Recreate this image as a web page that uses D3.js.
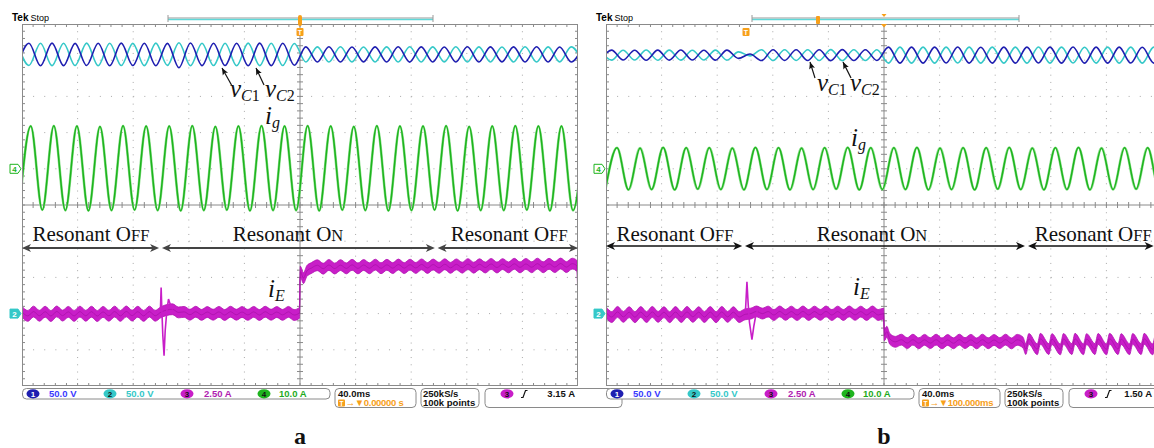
<!DOCTYPE html>
<html>
<head>
<meta charset="utf-8">
<script src="https://cdn.jsdelivr.net/npm/d3@7"></script>
<style>
body { margin: 0; background: #fff; }
svg { display: block; }
</style>
</head>
<body>
<svg id="chart" width="1154" height="448"></svg>
<script>
// scope settings (channels 1-4)
const chScale = [50, 50, 2.5, 10];      // V/div, V/div, A/div, A/div
const chPos = [-3, -3, -3, 1];          // ground marker, divisions from centre
const chReadout = ["50.0 V", "50.0 V", "2.50 A", "10.0 A"];
const timeDomainMs = [0, 400];          // 40 ms/div, 10 div
const halfCycleMs = 8.3;                // spacing of peaks and troughs (60 Hz)

// ---- panel a ----
const vc1A_t0 = -3.3;
const vc1A = [342.6,373.4,342.4,373.6,342.5,373.3,342.7,373.5,342.4,373.6,342.6,373.4,342.3,373.2,339.5,373.8,342.5,373.4,342.6,373.5,342.4,373.6,342.5,373.4,343.0,
  368.4,347.6,368.5,347.5,368.3,347.7,368.4,347.6,368.5,347.4,368.4,347.6,368.3,347.5,368.5,347.6,368.4,347.7,368.4,347.5,368.5,347.6,368.3,347.6,368.4];
const vc2A_t0 = -3.3;
const vc2A = [373.3,342.7,373.5,342.5,373.4,342.6,373.6,342.4,373.5,342.6,373.3,342.5,373.6,342.8,374.0,342.3,373.4,342.6,373.5,342.4,373.6,342.5,373.4,342.6,373.0,
  347.6,368.4,347.5,368.5,347.7,368.3,347.6,368.4,347.5,368.6,347.6,368.4,347.7,368.5,347.5,368.4,347.6,368.3,347.6,368.5,347.5,368.4,347.7,368.4,347.6];
const igA_t0 = -2.0;
const igA = [-11.5,11.8,-11.4,11.9,-11.5,11.8,-11.6,11.7,-11.5,11.9,-11.4,11.8,-11.5,11.8,-11.6,11.9,-11.5,11.7,-11.4,11.8,-11.6,11.9,-11.5,11.8,-11.5,
  11.9,-11.6,11.8,-11.4,11.7,-11.5,11.9,-11.6,11.8,-11.5,11.8,-11.4,11.9,-11.6,11.7,-11.5,11.8,-11.5,11.9,-11.4,11.8,-11.6,11.8,-11.5,11.7];
const ieA = [[0,0.12],[4.2,-0.16],[8.3,0.14],[12.5,-0.15],[16.7,0.13],[20.8,-0.17],[25,0.15],[29.2,-0.14],[33.3,0.12],[37.5,-0.16],[41.7,0.14],[45.8,-0.15],
  [50,0.13],[54.2,-0.17],[58.3,0.12],[62.5,-0.15],[66.7,0.14],[70.8,-0.16],[75,0.15],[79.2,-0.14],[83.3,0.13],[87.5,-0.16],[91.7,0.14],[95.8,-0.15],
  [100,0.1],[104.2,0.25],[108.3,0.3],[112.5,0.08],
  [116.7,0.12],[120.8,-0.08],[125,0.13],[129.2,-0.09],[133.3,0.11],[137.5,-0.08],[141.7,0.12],[145.8,-0.1],[150,0.13],[154.2,-0.08],[158.3,0.11],[162.5,-0.09],
  [166.7,0.12],[170.8,-0.1],[175,0.13],[179.2,-0.08],[183.3,0.11],[187.5,-0.09],[191.7,0.12],[195.8,-0.1],
  [199.6,0.05],[200.2,2.9],[202.5,2.45],[205,2.95],[208.3,3.15],
  [212.5,3.34],[216.7,3.1],[220.8,3.36],[225,3.11],[229.2,3.35],[233.3,3.12],[237.5,3.37],[241.7,3.12],[245.8,3.36],[250,3.13],[254.2,3.38],[258.3,3.13],
  [262.5,3.37],[266.7,3.14],[270.8,3.39],[275,3.14],[279.2,3.38],[283.3,3.15],[287.5,3.4],[291.7,3.15],[295.8,3.39],[300,3.16],[304.2,3.41],[308.3,3.16],
  [312.5,3.4],[316.7,3.17],[320.8,3.42],[325,3.17],[329.2,3.41],[333.3,3.18],[337.5,3.43],[341.7,3.18],[345.8,3.42],[350,3.19],[354.2,3.44],[358.3,3.19],
  [362.5,3.43],[366.7,3.2],[370.8,3.45],[375,3.2],[379.2,3.44],[383.3,3.21],[387.5,3.46],[391.7,3.21],[395.8,3.45],[399.2,3.3],[400,0.6]];
const spikeA = [[99.6,0.3],[100.1,1.8],[100.6,0.3],[101.3,-1.5],[102.2,-2.9],[103,-1.2],[104.2,0.2],[105.4,1.0],[106.8,0.6],[108.5,0.3]];
const phaseA = [[0, 98.6], [100.7, 297], [299, 400]];

// ---- panel b ----
const vc1B_t0 = -4.3;
const vc1B = [350.1,363.9,350.2,363.8,350.0,363.9,350.1,364.0,350.2,363.8,350.1,363.9,352.5,358.5,349.5,364.5,349.6,364.4,349.5,364.5,349.4,364.6,349.5,364.4,349.6,
  368.0,346.0,368.1,345.9,368.0,346.1,368.2,346.0,367.9,346.0,368.1,345.9,368.0,346.1,368.0,346.0,368.2,345.9,368.0,346.0,368.1,346.1,367.9,346.0,368.0];
const vc2B_t0 = -4.3;
const vc2B = [363.9,350.1,363.8,350.2,364.0,350.0,363.9,350.1,363.8,350.2,363.9,350.1,361.5,356.0,364.5,349.5,364.4,349.6,364.5,349.5,364.6,349.4,364.4,349.5,364.4,
  346.0,368.0,345.9,368.1,346.0,368.0,346.1,368.0,345.9,368.1,346.0,368.0,345.9,368.2,346.0,368.0,346.1,367.9,346.0,368.0,346.0,368.1,345.9,368.0,346.0];
const igB_t0 = -0.4;
const igB = [-5.7,5.8,-5.8,5.7,-5.7,5.9,-5.8,5.8,-5.6,5.8,-5.7,5.7,-5.8,5.9,-5.7,5.8,-5.8,5.7,-5.7,5.8,-5.6,5.9,-5.8,5.8,-5.7,
  5.8,-5.7,5.9,-5.8,5.7,-5.7,5.8,-5.8,5.8,-5.6,5.9,-5.7,5.7,-5.8,5.8,-5.7,5.9,-5.8,5.7,-5.7,5.8,-5.6,5.8,-5.8,5.7];
const ieB = [[0,0.1],[4.2,-0.24],[8.3,0.12],[12.5,-0.23],[16.7,0.1],[20.8,-0.25],[25,0.11],[29.2,-0.24],[33.3,0.12],[37.5,-0.23],[41.7,0.1],[45.8,-0.25],
  [50,0.11],[54.2,-0.24],[58.3,0.12],[62.5,-0.23],[66.7,0.1],[70.8,-0.24],[75,0.11],[79.2,-0.25],[83.3,0.12],[87.5,-0.23],[91.7,0.1],[95.8,-0.24],
  [100,-0.05],[104.2,0.0],[108.3,0.15],[112.5,0.0],
  [116.7,0.14],[120.8,-0.1],[125,0.15],[129.2,-0.09],[133.3,0.14],[137.5,-0.1],[141.7,0.15],[145.8,-0.1],[150,0.14],[154.2,-0.09],[158.3,0.15],[162.5,-0.1],
  [166.7,0.14],[170.8,-0.1],[175,0.15],[179.2,-0.09],[183.3,0.14],[187.5,-0.1],[191.7,0.15],[195.8,-0.1],
  [199.7,0.0],[200.3,-1.5],[202,-1.25],[204.2,-1.75],[208.3,-1.95],
  [212.5,-1.8],[216.7,-2.04],[220.8,-1.8],[225,-2.05],[229.2,-1.81],[233.3,-2.04],[237.5,-1.8],[241.7,-2.06],[245.8,-1.82],[250,-2.05],[254.2,-1.8],
  [258.3,-2.04],[262.5,-1.81],[266.7,-2.06],[270.8,-1.8],[275,-2.05],[279.2,-1.82],[283.3,-2.04],[287.5,-1.8],[291.7,-2.06],[295.8,-1.81],[300,-2.0],
  [302,-2.45],[304.2,-1.75],[310.3,-2.46],[312.5,-1.74],[318.6,-2.45],[320.8,-1.76],[326.9,-2.47],[329.1,-1.75],[335.2,-2.45],[337.4,-1.74],[343.5,-2.46],
  [345.7,-1.76],[351.8,-2.45],[354,-1.75],[360.1,-2.47],[362.3,-1.74],[368.4,-2.45],[370.6,-1.76],[376.7,-2.46],[378.9,-1.75],[385,-2.45],[387.2,-1.74],
  [393.3,-2.47],[395.5,-1.75],[401.6,-2.45]];
const spikeB = [[100.3,0.1],[101.4,2.2],[102.2,0.8],[103.2,-0.6],[105,-1.8],[106.3,-0.9],[107.8,-0.1],[109.4,0.35],[111,0.1]];
const phaseB = [[0, 98], [100, 301.4], [303.6, 394]];

const phaseNames = [["Resonant O", "FF"], ["Resonant O", "N"], ["Resonant O", "FF"]];
const phaseCentersMs = [49.6, 191.4, 350.5];
const ieBandA = 0.75;    // width of the noisy iE band

const panels = [
	{ x0: 22, label: "a", vc1: vc1A, vc1T0: vc1A_t0, vc2: vc2A, vc2T0: vc2A_t0, ig: igA, igT0: igA_t0, ie: ieA, spike: spikeA,
	  phase: phaseA, horiz: "0.00000 s", trig: "3.15 A", trigRight: 553, arrowStroke: "#444", arrowW: 1.8, arrowY: 248,
	  recBar: [168, 433], trigMark: 300, tBox: 300, labels: { vc1: [230, 97], vc2: [265, 97], ig: [265, 124], ie: [268, 297] },
	  ptr: [[[231.5, 85], [222, 68]], [[264, 85], [256, 68]]] },
	{ x0: 606, label: "b", vc1: vc1B, vc1T0: vc1B_t0, vc2: vc2B, vc2T0: vc2B_t0, ig: igB, igT0: igB_t0, ie: ieB, spike: spikeB,
	  phase: phaseB, horiz: "100.000ms", trig: "1.50 A", trigRight: 546, arrowStroke: "#111", arrowW: 1.4, arrowY: 246,
	  recBar: [752, 1019], trigMark: 818, tBox: 746, labels: { vc1: [817, 91], vc2: [850, 91], ig: [851, 146], ie: [853, 295] },
	  ptr: [[[815, 78], [810, 62]], [[851, 78], [843, 62]]] }
];

const gridW = 556, gridTop = 24, gridBot = 386;
const colors = { ch1: "#1e1eb0", ch2: "#35c8c8", ch3: "#c81ec8", ch4: "#1eb41e", grid: "#8a8a8a", dot: "#a8a8a8", orange: "#f7a01a" };
const chColors = [colors.ch1, colors.ch2, colors.ch3, colors.ch4];

const svg = d3.select("#chart");
const serif = "'Liberation Serif', 'Times New Roman', serif";
const sans = "'Liberation Sans', Arial, sans-serif";

function extremes(t0, vals) {
	return vals.map((v, i) => [t0 + i * halfCycleMs, v]);
}

function arrowHead(g, tx, ty, dir, fill) {
	// dir = 1 points right, -1 points left
	g.append("path")
		.attr("d", `M${tx},${ty} L${tx - dir * 9},${ty - 4} L${tx - dir * 6.5},${ty} L${tx - dir * 9},${ty + 4} Z`)
		.attr("fill", fill);
}

panels.forEach((p, pi) => {
	const g = svg.append("g");
	const x = d3.scaleLinear().domain(timeDomainMs).range([p.x0, p.x0 + gridW]);
	const yDiv = d3.scaleLinear().domain([-5, 5]).range([gridBot, gridTop]);
	const yCh = (ch, v) => yDiv(v / chScale[ch] + chPos[ch]);

	// ---- graticule ----
	const grid = g.append("g");
	d3.range(1, 10).filter(i => i !== 5).forEach(i => {
		grid.append("line").attr("x1", x(i * 40)).attr("x2", x(i * 40)).attr("y1", gridTop).attr("y2", gridBot)
			.attr("stroke", colors.dot).attr("stroke-dasharray", "1,6.24");
		grid.append("line").attr("x1", p.x0).attr("x2", p.x0 + gridW).attr("y1", yDiv(i - 5)).attr("y2", yDiv(i - 5))
			.attr("stroke", colors.dot).attr("stroke-dasharray", "1,10.12");
	});
	grid.append("line").attr("x1", x(200)).attr("x2", x(200)).attr("y1", gridTop).attr("y2", gridBot).attr("stroke", colors.grid);
	grid.append("line").attr("x1", p.x0).attr("x2", p.x0 + gridW).attr("y1", yDiv(0)).attr("y2", yDiv(0)).attr("stroke", colors.grid);
	d3.range(1, 50).forEach(k => {
		const xx = x(k * 8), yy = yDiv(k / 5 - 5);
		grid.append("line").attr("x1", xx).attr("x2", xx).attr("y1", yDiv(0) - 3).attr("y2", yDiv(0) + 3).attr("stroke", colors.grid);
		grid.append("line").attr("x1", x(200) - 3).attr("x2", x(200) + 3).attr("y1", yy).attr("y2", yy).attr("stroke", colors.grid);
		grid.append("line").attr("x1", xx).attr("x2", xx).attr("y1", gridTop).attr("y2", gridTop + 3).attr("stroke", colors.grid);
		grid.append("line").attr("x1", xx).attr("x2", xx).attr("y1", gridBot - 3).attr("y2", gridBot).attr("stroke", colors.grid);
		grid.append("line").attr("x1", p.x0).attr("x2", p.x0 + 3).attr("y1", yy).attr("y2", yy).attr("stroke", colors.grid);
		grid.append("line").attr("x1", p.x0 + gridW - 3).attr("x2", p.x0 + gridW).attr("y1", yy).attr("y2", yy).attr("stroke", colors.grid);
	});
	grid.append("rect").attr("x", p.x0 + 0.5).attr("y", gridTop + 0.5).attr("width", gridW - 1).attr("height", gridBot - gridTop - 1)
		.attr("fill", "none").attr("stroke", colors.grid);

	// ---- traces ----
	const clipId = "clip" + pi;
	svg.append("clipPath").attr("id", clipId).append("rect")
		.attr("x", p.x0 + 1).attr("y", gridTop + 1).attr("width", gridW - 2).attr("height", gridBot - gridTop - 2);
	const tr = g.append("g").attr("clip-path", `url(#${clipId})`);

	const line = ch => d3.line().x(d => x(d[0])).y(d => yCh(ch, d[1])).curve(d3.curveMonotoneX);
	tr.append("path").attr("d", line(1)(extremes(p.vc2T0, p.vc2))).attr("fill", "none").attr("stroke", colors.ch2).attr("stroke-width", 1.6);
	tr.append("path").attr("d", line(0)(extremes(p.vc1T0, p.vc1))).attr("fill", "none").attr("stroke", colors.ch1).attr("stroke-width", 1.6);
	tr.append("path").attr("d", line(3)(extremes(p.igT0, p.ig))).attr("fill", "none").attr("stroke", "#8ee08e").attr("stroke-width", 2.6);
	tr.append("path").attr("d", line(3)(extremes(p.igT0, p.ig))).attr("fill", "none").attr("stroke", colors.ch4).attr("stroke-width", 1.5);

	const band = d3.area().x(d => x(d[0]))
		.y0(d => yCh(2, d[1] - ieBandA / 2)).y1(d => yCh(2, d[1] + ieBandA / 2)).curve(d3.curveMonotoneX);
	tr.append("path").attr("d", band(p.ie)).attr("fill", colors.ch3).attr("stroke", "#b010b0").attr("stroke-width", 0.8);
	tr.append("path").attr("d", line(2)(p.ie)).attr("fill", "none").attr("stroke", "#9a0c9a").attr("stroke-width", 1).attr("opacity", 0.5);
	tr.append("path").attr("d", d3.line().x(d => x(d[0])).y(d => yCh(2, d[1]))(p.spike))
		.attr("fill", "none").attr("stroke", colors.ch3).attr("stroke-width", 1.6);

	// ---- ground markers ----
	const mk = (yy, fill, stroke, txt, txtFill) => {
		const xr = p.x0 - 1;
		g.append("path").attr("d", `M${xr - 11},${yy - 4.5} h8 l3,4.5 l-3,4.5 h-8 Z`).attr("fill", fill).attr("stroke", stroke);
		g.append("text").attr("x", xr - 6.5).attr("y", yy + 3).attr("text-anchor", "middle").attr("font-family", sans)
			.attr("font-size", 8).attr("font-weight", "bold").attr("fill", txtFill).text(txt);
	};
	mk(yDiv(chPos[3]), "#fff", colors.ch4, "4", colors.ch4);
	mk(yDiv(chPos[1]), colors.ch2, colors.ch2, "2", "#fff");

	// ---- header ----
	g.append("text").attr("x", p.x0 - 10).attr("y", 21).attr("font-family", sans).attr("font-size", 10).attr("font-weight", "bold").text("Tek");
	g.append("text").attr("x", p.x0 + 8.5).attr("y", 21).attr("font-family", sans).attr("font-size", 9).text("Stop");
	g.append("line").attr("x1", p.recBar[0]).attr("x2", p.recBar[1]).attr("y1", 18).attr("y2", 18).attr("stroke", "#999");
	g.append("line").attr("x1", p.recBar[0]).attr("x2", p.recBar[1]).attr("y1", 19.5).attr("y2", 19.5).attr("stroke", "#5fd8d8").attr("stroke-width", 1.5);
	p.recBar.forEach(bx => g.append("line").attr("x1", bx).attr("x2", bx).attr("y1", 15).attr("y2", 22).attr("stroke", "#999"));
	if (pi === 0) {
		g.append("rect").attr("x", p.trigMark - 2).attr("y", 15).attr("width", 4).attr("height", 11).attr("rx", 2).attr("fill", colors.orange);
	} else {
		g.append("rect").attr("x", p.trigMark - 2).attr("y", 16).attr("width", 4).attr("height", 8).attr("rx", 1).attr("fill", colors.orange);
		const cx = x(200);
		g.append("path").attr("d", `M${cx - 2.5},14 h5 l-2.5,3 Z`).attr("fill", colors.orange);
		g.append("path").attr("d", `M${cx - 3},24 h6 l-3,3.5 Z`).attr("fill", colors.orange);
	}
	g.append("rect").attr("x", p.tBox - 3.5).attr("y", 28).attr("width", 7).attr("height", 8).attr("rx", 1).attr("fill", colors.orange);
	g.append("text").attr("x", p.tBox).attr("y", 34.5).attr("text-anchor", "middle").attr("font-family", sans).attr("font-size", 7)
		.attr("font-weight", "bold").attr("fill", "#fff").text("T");

	// ---- phase arrows ----
	const ph = g.append("g");
	p.phase.forEach((seg, i) => {
		const xa = x(seg[0]), xb = Math.min(x(seg[1]), 1154);
		ph.append("line").attr("x1", xa + 4).attr("x2", xb - 4).attr("y1", p.arrowY).attr("y2", p.arrowY)
			.attr("stroke", p.arrowStroke).attr("stroke-width", p.arrowW);
		arrowHead(ph, xa, p.arrowY, -1, p.arrowStroke);
		arrowHead(ph, xb, p.arrowY, 1, p.arrowStroke);
		const t = ph.append("text").attr("x", x(phaseCentersMs[i])).attr("y", 241).attr("text-anchor", "middle")
			.attr("font-family", serif).attr("font-size", 21).attr("fill", "#111");
		t.append("tspan").text(phaseNames[i][0]);
		t.append("tspan").attr("font-size", 16.5).text(phaseNames[i][1]);
	});

	// ---- trace labels ----
	const lab = (pos, main, sub, subRoman) => {
		const t = g.append("text").attr("x", pos[0]).attr("y", pos[1]).attr("font-family", serif).attr("fill", "#111");
		t.append("tspan").attr("font-style", "italic").attr("font-size", 25).text(main);
		t.append("tspan").attr("font-style", "italic").attr("font-size", 16).attr("dy", 4).text(sub);
		if (subRoman) t.append("tspan").attr("font-size", 16).text(subRoman);
	};
	lab(p.labels.vc1, "v", "C", "1");
	lab(p.labels.vc2, "v", "C", "2");
	lab(p.labels.ig, "i", "g");
	lab(p.labels.ie, "i", "E");
	p.ptr.forEach(a => {
		g.append("line").attr("x1", a[0][0]).attr("y1", a[0][1]).attr("x2", a[1][0]).attr("y2", a[1][1])
			.attr("stroke", "#111").attr("stroke-width", 1.2);
		const ang = Math.atan2(a[1][1] - a[0][1], a[1][0] - a[0][0]) * 180 / Math.PI;
		g.append("path").attr("d", "M0,0 L-7,-3 L-5.5,0 L-7,3 Z").attr("fill", "#111")
			.attr("transform", `translate(${a[1][0]},${a[1][1]}) rotate(${ang})`);
	});

	// ---- readout boxes ----
	const rb = g.append("g").attr("font-family", sans).attr("font-size", 9.5).attr("font-weight", "bold");
	const bx = r => p.x0 + r;
	const box = (r0, r1, h) => rb.append("rect").attr("x", bx(r0)).attr("y", 388.5).attr("width", r1 - r0).attr("height", h)
		.attr("rx", 4).attr("fill", "#fff").attr("stroke", "#8a8a8a");
	box(0.5, 308, 10.5);
	box(313, 394, 19);
	box(399, 457, 19);
	box(463, 600, 19);
	const circ = [11, 88, 165, 242], txtX = [27, 104, 182, 257];
	const circTxt = ["#fff", "#111", "#111", "#111"];
	const chTxt = ["#3a3aff", "#35c8c8", "#b01cb0", "#1eaa1e"];
	chReadout.forEach((s, i) => {
		rb.append("ellipse").attr("cx", bx(circ[i])).attr("cy", 393.8).attr("rx", 6.5).attr("ry", 4.6).attr("fill", chColors[i]);
		rb.append("text").attr("x", bx(circ[i])).attr("y", 397).attr("text-anchor", "middle").attr("font-size", 8).attr("fill", circTxt[i]).text(i + 1);
		rb.append("text").attr("x", bx(txtX[i])).attr("y", 397.3).attr("fill", chTxt[i]).text(s);
	});
	rb.append("text").attr("x", bx(316)).attr("y", 397).attr("fill", "#111").text("40.0ms");
	rb.append("rect").attr("x", bx(316)).attr("y", 399.5).attr("width", 7).attr("height", 7).attr("rx", 1).attr("fill", colors.orange);
	rb.append("text").attr("x", bx(319.5)).attr("y", 405.5).attr("text-anchor", "middle").attr("font-size", 6.5).attr("fill", "#fff").text("T");
	rb.append("text").attr("x", bx(323.5)).attr("y", 406).attr("fill", colors.orange).attr("letter-spacing", -0.3).text("\u2192\u25BC" + p.horiz);
	rb.append("text").attr("x", bx(401)).attr("y", 397).attr("fill", "#111").text("250kS/s");
	rb.append("text").attr("x", bx(401)).attr("y", 406).attr("fill", "#111").text("100k points");
	rb.append("ellipse").attr("cx", bx(485)).attr("cy", 393.8).attr("rx", 6.5).attr("ry", 4.6).attr("fill", chColors[2]);
	rb.append("text").attr("x", bx(485)).attr("y", 397).attr("text-anchor", "middle").attr("font-size", 8).attr("fill", "#111").text("3");
	rb.append("path").attr("d", `M${bx(499)},397.5 h2 l2.5,-7 h2`).attr("fill", "none").attr("stroke", "#111").attr("stroke-width", 1.2);
	rb.append("text").attr("x", bx(p.trigRight)).attr("y", 397).attr("text-anchor", "end").attr("fill", "#111").text(p.trig);

	// ---- sub-figure label ----
	g.append("text").attr("x", x(200)).attr("y", 444).attr("text-anchor", "middle").attr("font-family", serif)
		.attr("font-size", 24).attr("font-weight", "bold").attr("fill", "#111").text(p.label);
});
</script>
</body>
</html>
